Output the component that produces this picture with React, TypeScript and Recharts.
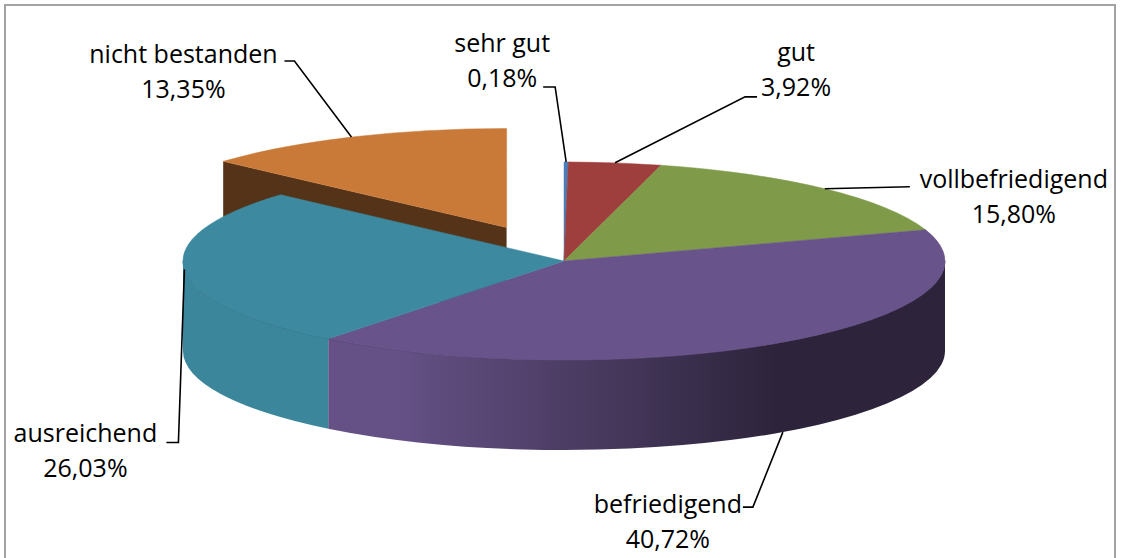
import { PieChart, Pie } from "recharts";

const grades = ["sehr gut", "gut", "vollbefriedigend", "befriedigend", "ausreichend", "nicht bestanden"];
const shares = [0.18, 3.92, 15.8, 40.72, 26.03, 13.35];
const colors = ["#4a7ebb", "#9e3f3d", "#7f9a48", "#68538a", "#3d8aa0", "#ca7a38"];

const data = grades.map((name, i) => ({ name, value: shares[i] }));

// where each label sits relative to its anchor point on the slice (text centre / first baseline, leader bends)
const labelLayout = [
  { tx: -64, ty: -110, leader: [[-11, -75], [-23, -75]] },
  { tx: 181, ty: -102, leader: [[130, -66], [142, -66]] },
  { tx: 189, ty: -1, leader: [[85, -2]] },
  { tx: -115, ty: 81, leader: [[-30, 75], [-40, 75]] },
  { tx: -99, ty: 173, leader: [[-6, 173], [-18, 173]] },
  { tx: -168, ty: -74, leader: [[-57, -76], [-67, -76]] },
];

const W = 1122;
const H = 558;
const TILT = 0.26;
const DEPTH = 90;
const EXPLODE = 0.37;
const EXPLODED = "nicht bestanden";
const FONT = "'Open Sans', sans-serif";

const rad = (d: number) => (d * Math.PI) / 180;

function pt(cx: number, cy: number, r: number, deg: number, h = 0): [number, number] {
  return [cx + r * Math.cos(rad(deg)), cy - r * TILT * Math.sin(rad(deg)) + h];
}

function shift(name: string, mid: number, r: number): [number, number] {
  if (name !== EXPLODED) return [0, 0];
  return [EXPLODE * r * Math.cos(rad(mid)), -EXPLODE * r * TILT * Math.sin(rad(mid))];
}

function shade(hex: string, f: number) {
  const n = parseInt(hex.slice(1), 16);
  const c = [(n >> 16) & 255, (n >> 8) & 255, n & 255].map((v) => Math.round(v * f));
  return `rgb(${c[0]},${c[1]},${c[2]})`;
}

const nameOf = (p: any) => p.payload?.name ?? p.name;

function TopShape(props: any) {
  const { cx, cy, outerRadius: r, startAngle: s, endAngle: e } = props;
  const name = nameOf(props);
  const color = colors[grades.indexOf(name)];
  const [dx, dy] = shift(name, (s + e) / 2, r);
  const ox = cx + dx;
  const oy = cy + dy;
  const a = pt(ox, oy, r, s);
  const b = pt(ox, oy, r, e);
  const large = Math.abs(s - e) > 180 ? 1 : 0;
  return (
    <path
      d={`M${ox},${oy} L${a[0]},${a[1]} A${r},${r * TILT} 0 ${large} 1 ${b[0]},${b[1]} Z`}
      fill={color}
      stroke={color}
      strokeWidth={0.5}
    />
  );
}

function WallShape(props: any) {
  const { cx, cy, outerRadius: r, startAngle: s, endAngle: e } = props;
  const name = nameOf(props);
  const idx = grades.indexOf(name);
  const color = colors[idx];
  const [dx, dy] = shift(name, (s + e) / 2, r);
  const ox = cx + dx;
  const oy = cy + dy;
  const ry = r * TILT;
  const parts: JSX.Element[] = [];

  if (name === EXPLODED) {
    const face = (t: number, key: string) => {
      const p = pt(ox, oy, r, t);
      const q = pt(ox, oy, r, t, DEPTH);
      parts.push(
        <path
          key={key}
          d={`M${ox},${oy} L${p[0]},${p[1]} L${q[0]},${q[1]} L${ox},${oy + DEPTH} Z`}
          fill={shade(color, 0.42)}
        />
      );
    };
    if (Math.cos(rad(s)) < 0) face(s, "fs");
    if (Math.cos(rad(e)) > 0) face(e, "fe");
  }

  const hi = Math.min(s, 0);
  const lo = Math.max(e, -180);
  if (hi > lo) {
    const a = pt(ox, oy, r, hi);
    const b = pt(ox, oy, r, lo);
    const c = pt(ox, oy, r, lo, DEPTH);
    const d = pt(ox, oy, r, hi, DEPTH);
    const gid = `wall-${idx}`;
    parts.push(
      <g key="wall">
        <defs>
          <linearGradient id={gid} gradientUnits="userSpaceOnUse" x1={ox - r} y1={0} x2={ox + r} y2={0}>
            <stop offset="0" stopColor={shade(color, 0.97)} />
            <stop offset="0.28" stopColor={shade(color, 0.97)} />
            <stop offset="0.78" stopColor={shade(color, 0.43)} />
            <stop offset="1" stopColor={shade(color, 0.43)} />
          </linearGradient>
        </defs>
        <path
          d={`M${a[0]},${a[1]} A${r},${ry} 0 0 1 ${b[0]},${b[1]} L${c[0]},${c[1]} A${r},${ry} 0 0 0 ${d[0]},${d[1]} Z`}
          fill={`url(#${gid})`}
        />
        <path
          d={`M${a[0]},${a[1]} A${r},${ry} 0 0 1 ${b[0]},${b[1]}`}
          fill="none"
          stroke={shade(color, 0.75)}
          strokeWidth={1}
        />
      </g>
    );
  }
  return <g>{parts}</g>;
}

function renderLabel(props: any) {
  const { cx, cy, midAngle, outerRadius: r, value } = props;
  const name = nameOf(props);
  const i = grades.indexOf(name);
  const [dx, dy] = shift(name, midAngle, r);
  const anchor = pt(cx + dx, cy + dy, r, midAngle);
  if (Math.sin(rad(midAngle)) < -0.5) anchor[1] += DEPTH;
  const L = labelLayout[i];
  const points = [anchor, ...L.leader.map(([x, y]) => [anchor[0] + x, anchor[1] + y])]
    .map((p) => p.join(","))
    .join(" ");
  const tx = anchor[0] + L.tx;
  const ty = anchor[1] + L.ty;
  return (
    <g key={`label-${i}`}>
      <polyline points={points} fill="none" stroke="#000" strokeWidth={1.6} />
      <text x={tx} y={ty} textAnchor="middle" fontFamily={FONT} fontSize={25} fill="#000">
        <tspan x={tx}>{name}</tspan>
        <tspan x={tx} dy={35}>
          {Number(value).toFixed(2).replace(".", ",")}%
        </tspan>
      </text>
    </g>
  );
}

export default function App() {
  return (
    <div style={{ position: "fixed", left: 0, top: 0, width: W, height: H, background: "#fff", overflow: "hidden" }}>
      <div
        style={{
          position: "absolute",
          left: 4,
          top: 4,
          width: 1108,
          height: 600,
          border: "2px solid #a3a3a3",
        }}
      />
      <div style={{ position: "absolute", left: 0, top: 0 }}>
        <PieChart width={W} height={H} margin={{ top: 0, right: 0, bottom: 0, left: 0 }}>
          <Pie
            data={data}
            dataKey="value"
            nameKey="name"
            cx={564}
            cy={261}
            outerRadius={381}
            startAngle={90}
            endAngle={-270}
            stroke="none"
            shape={WallShape}
            isAnimationActive={false}
          />
          <Pie
            data={data}
            dataKey="value"
            nameKey="name"
            cx={564}
            cy={261}
            outerRadius={381}
            startAngle={90}
            endAngle={-270}
            stroke="none"
            shape={TopShape}
            label={renderLabel}
            labelLine={false}
            isAnimationActive={false}
          />
        </PieChart>
      </div>
    </div>
  );
}
